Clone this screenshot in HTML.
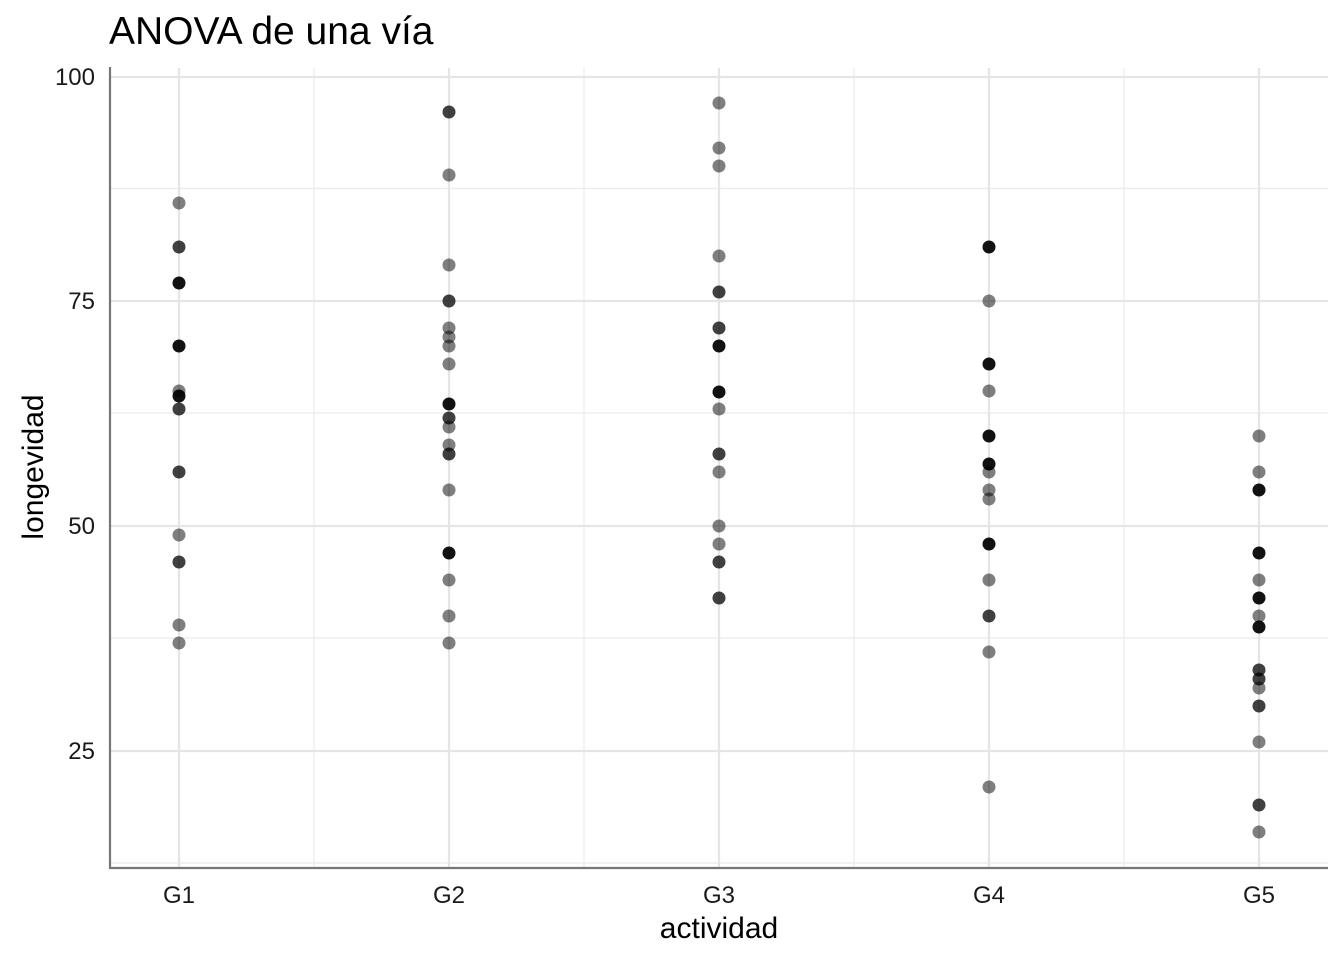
<!DOCTYPE html>
<html><head><meta charset="utf-8"><style>
html,body{margin:0;padding:0;background:#fff;}
svg{display:block;font-family:"Liberation Sans",Arial,sans-serif;}
.L{fill:#000;fill-opacity:.5}
.D{fill:#000;fill-opacity:.75}
.K{fill:#000;fill-opacity:.93}
</style></head><body>
<svg width="1344" height="960" viewBox="0 0 1344 960">
<text x="109" y="44" font-size="39" fill="#000">ANOVA de una vía</text>
<g stroke="#ebebeb" stroke-width="1.2">
<line x1="110" x2="1328" y1="188.5" y2="188.5"/><line x1="110" x2="1328" y1="413" y2="413"/>
<line x1="110" x2="1328" y1="638" y2="638"/><line x1="110" x2="1328" y1="863" y2="863"/>
<line x1="314" x2="314" y1="68" y2="867"/><line x1="584" x2="584" y1="68" y2="867"/>
<line x1="854" x2="854" y1="68" y2="867"/><line x1="1124" x2="1124" y1="68" y2="867"/>
</g>
<g stroke="#e5e5e5" stroke-width="2.2">
<line x1="110" x2="1328" y1="77" y2="77"/><line x1="110" x2="1328" y1="301" y2="301"/>
<line x1="110" x2="1328" y1="526" y2="526"/><line x1="110" x2="1328" y1="751" y2="751"/>
<line x1="179" x2="179" y1="68" y2="867"/><line x1="449" x2="449" y1="68" y2="867"/>
<line x1="719" x2="719" y1="68" y2="867"/><line x1="989" x2="989" y1="68" y2="867"/>
<line x1="1259" x2="1259" y1="68" y2="867"/>
</g>
<g>
<circle class="L" cx="179" cy="203" r="6.5"/><circle class="D" cx="179" cy="247" r="6.5"/>
<circle class="K" cx="179" cy="283" r="6.5"/><circle class="K" cx="179" cy="346" r="6.5"/>
<circle class="L" cx="179" cy="391" r="6.5"/><circle class="K" cx="179" cy="396" r="6.5"/>
<circle class="D" cx="179" cy="409" r="6.5"/><circle class="D" cx="179" cy="472" r="6.5"/>
<circle class="L" cx="179" cy="535" r="6.5"/><circle class="D" cx="179" cy="562" r="6.5"/>
<circle class="L" cx="179" cy="625" r="6.5"/><circle class="L" cx="179" cy="643" r="6.5"/>
<circle class="D" cx="449" cy="112" r="6.5"/><circle class="L" cx="449" cy="175" r="6.5"/>
<circle class="L" cx="449" cy="265" r="6.5"/><circle class="D" cx="449" cy="301" r="6.5"/>
<circle class="L" cx="449" cy="328" r="6.5"/><circle class="L" cx="449" cy="337" r="6.5"/>
<circle class="L" cx="449" cy="346" r="6.5"/><circle class="L" cx="449" cy="364" r="6.5"/>
<circle class="K" cx="449" cy="404" r="6.5"/><circle class="D" cx="449" cy="418" r="6.5"/>
<circle class="L" cx="449" cy="427" r="6.5"/><circle class="L" cx="449" cy="445" r="6.5"/>
<circle class="D" cx="449" cy="454" r="6.5"/><circle class="L" cx="449" cy="490" r="6.5"/>
<circle class="K" cx="449" cy="553" r="6.5"/><circle class="L" cx="449" cy="580" r="6.5"/>
<circle class="L" cx="449" cy="616" r="6.5"/><circle class="L" cx="449" cy="643" r="6.5"/>
<circle class="L" cx="719" cy="103" r="6.5"/><circle class="L" cx="719" cy="148" r="6.5"/>
<circle class="L" cx="719" cy="166" r="6.5"/><circle class="L" cx="719" cy="256" r="6.5"/>
<circle class="D" cx="719" cy="292" r="6.5"/><circle class="D" cx="719" cy="328" r="6.5"/>
<circle class="K" cx="719" cy="346" r="6.5"/><circle class="K" cx="719" cy="392" r="6.5"/>
<circle class="L" cx="719" cy="409" r="6.5"/><circle class="D" cx="719" cy="454" r="6.5"/>
<circle class="L" cx="719" cy="472" r="6.5"/><circle class="L" cx="719" cy="526" r="6.5"/>
<circle class="L" cx="719" cy="544" r="6.5"/><circle class="D" cx="719" cy="562" r="6.5"/>
<circle class="D" cx="719" cy="598" r="6.5"/>
<circle class="K" cx="989" cy="247" r="6.5"/><circle class="L" cx="989" cy="301" r="6.5"/>
<circle class="K" cx="989" cy="364" r="6.5"/><circle class="L" cx="989" cy="391" r="6.5"/>
<circle class="K" cx="989" cy="436" r="6.5"/><circle class="K" cx="989" cy="464" r="6.5"/>
<circle class="L" cx="989" cy="472" r="6.5"/><circle class="L" cx="989" cy="490" r="6.5"/>
<circle class="L" cx="989" cy="499" r="6.5"/><circle class="K" cx="989" cy="544" r="6.5"/>
<circle class="L" cx="989" cy="580" r="6.5"/><circle class="D" cx="989" cy="616" r="6.5"/>
<circle class="L" cx="989" cy="652" r="6.5"/><circle class="L" cx="989" cy="787" r="6.5"/>
<circle class="L" cx="1259" cy="436" r="6.5"/><circle class="L" cx="1259" cy="472" r="6.5"/>
<circle class="K" cx="1259" cy="490" r="6.5"/><circle class="K" cx="1259" cy="553" r="6.5"/>
<circle class="L" cx="1259" cy="580" r="6.5"/><circle class="K" cx="1259" cy="598" r="6.5"/>
<circle class="L" cx="1259" cy="616" r="6.5"/><circle class="K" cx="1259" cy="627" r="6.5"/>
<circle class="D" cx="1259" cy="670" r="6.5"/><circle class="D" cx="1259" cy="679" r="6.5"/>
<circle class="L" cx="1259" cy="688" r="6.5"/><circle class="D" cx="1259" cy="706" r="6.5"/>
<circle class="L" cx="1259" cy="742" r="6.5"/><circle class="D" cx="1259" cy="805" r="6.5"/>
<circle class="L" cx="1259" cy="832" r="6.5"/>
</g>
<g stroke="#777" stroke-width="2.2">
<line x1="110" x2="110" y1="67" y2="869"/>
<line x1="109" x2="1328" y1="868" y2="868"/>
</g>
<g font-size="24" fill="#1a1a1a" text-anchor="end">
<text x="95" y="85">100</text><text x="95" y="309">75</text>
<text x="95" y="534">50</text><text x="95" y="759">25</text>
</g>
<g font-size="24" fill="#1a1a1a" text-anchor="middle">
<text x="179" y="903">G1</text><text x="449" y="903">G2</text><text x="719" y="903">G3</text>
<text x="989" y="903">G4</text><text x="1259" y="903">G5</text>
</g>
<text x="719" y="938" font-size="30" text-anchor="middle" fill="#000">actividad</text>
<text transform="translate(43,467) rotate(-90)" font-size="30" text-anchor="middle" fill="#000">longevidad</text>
</svg>
</body></html>
